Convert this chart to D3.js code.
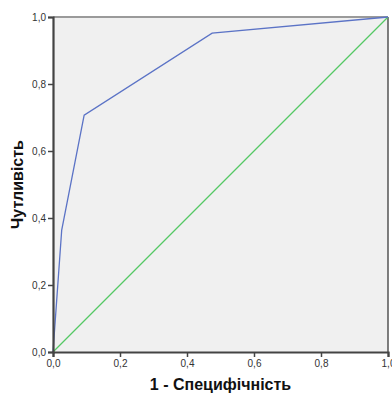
<!DOCTYPE html>
<html>
<head>
<meta charset="utf-8">
<script src="https://cdn.jsdelivr.net/npm/d3@7"></script>
<style>
  html, body { margin: 0; padding: 0; background: #fff; }
  svg { display: block; }
</style>
</head>
<body>
<svg id="chart" width="392" height="394"></svg>
<script>
// ROC curve points: false positive rate (1 - specificity) and sensitivity
const fpr = [0, 0.026, 0.093, 0.475, 1.0];
const tpr = [0, 0.364, 0.707, 0.952, 1.0];
// Reference (chance) line
const refX = [0, 1];
const refY = [0, 1];
const tickValues = [0, 0.2, 0.4, 0.6, 0.8, 1.0];
const xTitle = "1 - Специфічність";
const yTitle = "Чутливість";

(function () {
  const svg = d3.select("#chart");
  const m = { left: 53, right: 388, top: 17, bottom: 352 };

  const x = d3.scaleLinear().domain([0, 1]).range([m.left, m.right]);
  const y = d3.scaleLinear().domain([0, 1]).range([m.bottom, m.top]);
  const fmt = d => d3.format(".1f")(d).replace(".", ",");
  const font = "Arial, 'Liberation Sans', sans-serif";

  // plot background
  svg.append("rect")
    .attr("x", m.left).attr("y", m.top)
    .attr("width", m.right - m.left).attr("height", m.bottom - m.top)
    .attr("fill", "#f0f0f0");

  // top and right frame
  svg.append("line").attr("x1", m.left).attr("x2", m.right).attr("y1", m.top).attr("y2", m.top)
    .attr("stroke", "#9a9a9a").attr("stroke-width", 2);
  svg.append("line").attr("x1", m.right).attr("x2", m.right).attr("y1", m.top).attr("y2", m.bottom)
    .attr("stroke", "#555").attr("stroke-width", 1.5);

  // reference line
  svg.append("path")
    .datum(refX.map((d, i) => [d, refY[i]]))
    .attr("fill", "none").attr("stroke", "#55c865").attr("stroke-width", 1.3)
    .attr("d", d3.line().x(d => x(d[0])).y(d => y(d[1])));

  // ROC curve
  svg.append("path")
    .datum(fpr.map((d, i) => [d, tpr[i]]))
    .attr("fill", "none").attr("stroke", "#5b73c6").attr("stroke-width", 1.3)
    .attr("d", d3.line().x(d => x(d[0])).y(d => y(d[1])));

  // axes
  const xAxis = svg.append("g").attr("transform", `translate(0,${m.bottom})`)
    .call(d3.axisBottom(x).tickValues(tickValues).tickFormat(fmt).tickSize(5).tickPadding(3));
  const yAxis = svg.append("g").attr("transform", `translate(${m.left},0)`)
    .call(d3.axisLeft(y).tickValues(tickValues).tickFormat(fmt).tickSize(5).tickPadding(2));

  [xAxis, yAxis].forEach(g => {
    g.select(".domain").attr("stroke", "#444").attr("stroke-width", 2.2);
    g.selectAll(".tick line").attr("stroke", "#444").attr("stroke-width", 1.5);
    g.selectAll(".tick text").attr("fill", "#333")
      .style("font-family", font).style("font-size", "10px");
  });

  // axis titles
  svg.append("text")
    .attr("x", (m.left + m.right) / 2).attr("y", 390)
    .attr("text-anchor", "middle")
    .style("font-family", font)
    .style("font-size", "16px").style("font-weight", "bold").attr("fill", "#111")
    .text(xTitle);

  svg.append("text")
    .attr("transform", `translate(23,${(m.top + m.bottom) / 2}) rotate(-90)`)
    .attr("text-anchor", "middle")
    .style("font-family", font)
    .style("font-size", "16px").style("font-weight", "bold").attr("fill", "#111")
    .text(yTitle);
})();
</script>
</body>
</html>
